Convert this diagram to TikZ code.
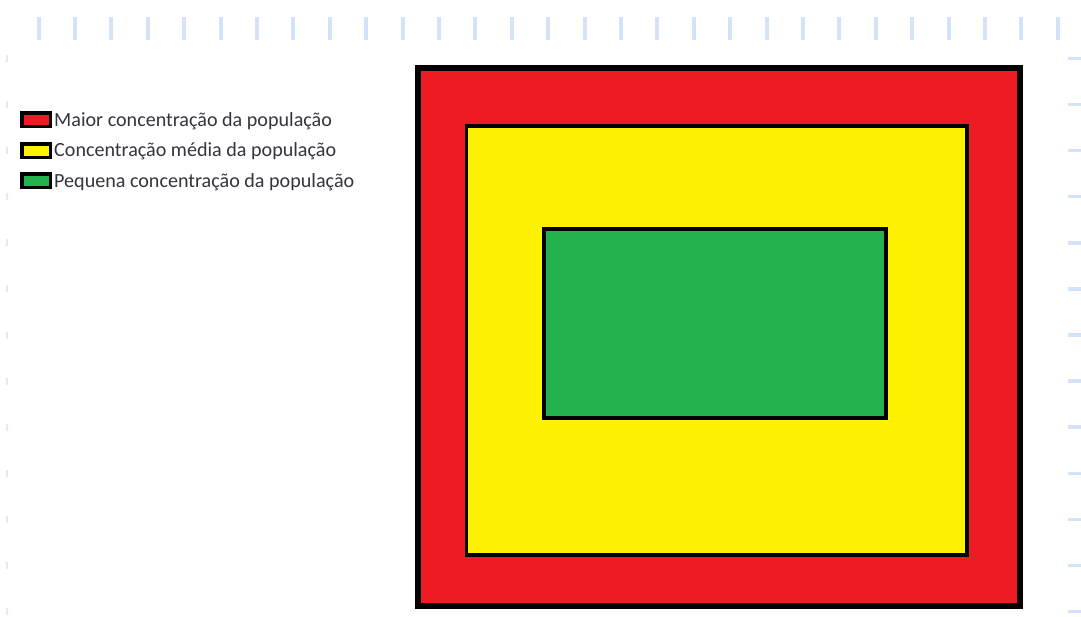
\documentclass[tikz,border=0pt]{standalone}
\usepackage{fontspec}
\setmainfont{Carlito}
\definecolor{zred}{RGB}{237,28,36}
\definecolor{zyellow}{RGB}{255,242,0}
\definecolor{zgreen}{RGB}{34,177,76}
\definecolor{tickblue}{RGB}{212,227,247}
\definecolor{faintblue}{RGB}{226,233,246}
\definecolor{legtext}{RGB}{52,52,62}
\begin{document}
\begin{tikzpicture}[x=1pt,y=-1pt,
  zone/.style={rectangle,draw=black,inner sep=0pt,outer sep=0pt},
  swatch/.style={rectangle,draw=black,line width=3.5pt,inner sep=0pt,outer sep=0pt,minimum width=28.5pt,minimum height=13.5pt},
  legend/.style={anchor=base west,inner sep=0pt,text=legtext,font=\fontsize{20.1}{24}\selectfont},
  tickmark/.style={draw=tickblue,line width=4pt},
  sidemark/.style={draw=tickblue,line width=3.5pt},
  leftmark/.style={draw=faintblue,line width=2pt}]
\useasboundingbox (0,0) rectangle (1081,617);
% grid marks
\foreach \i in {0,...,28} \draw[tickmark] ({38.6+36.4*\i},17) -- ++(0,23);
\foreach \i in {0,...,12} \draw[sidemark] (1068,{58.4+46.1*\i}) -- (1081,{58.4+46.1*\i});
\foreach \i in {0,...,12} \draw[leftmark] (7,{55+46.1*\i}) -- ++(0,7);
% zones
\node[zone,fill=zred,line width=6pt,minimum width=602pt,minimum height=538pt] (red) at (719,337) {};
\node[zone,fill=zyellow,line width=3.5pt,minimum width=500.5pt,minimum height=429pt] (yellow) at (716.75,340.5) {};
\node[zone,fill=zgreen,line width=4pt,minimum width=342pt,minimum height=188pt] (green) at (715,323.5) {};
% legend
\node[swatch,fill=zred] (sred) at (36,120) {};
\node[swatch,fill=zyellow] (syellow) at (36,151) {};
\node[swatch,fill=zgreen] (sgreen) at (36,181) {};
\node[legend] (lred) at (54,126.5) {Maior concentração da população};
\node[legend] (lyellow) at (54,157) {Concentração média da população};
\node[legend] (lgreen) at (54,187.5) {Pequena concentração da população};
\end{tikzpicture}
\end{document}
